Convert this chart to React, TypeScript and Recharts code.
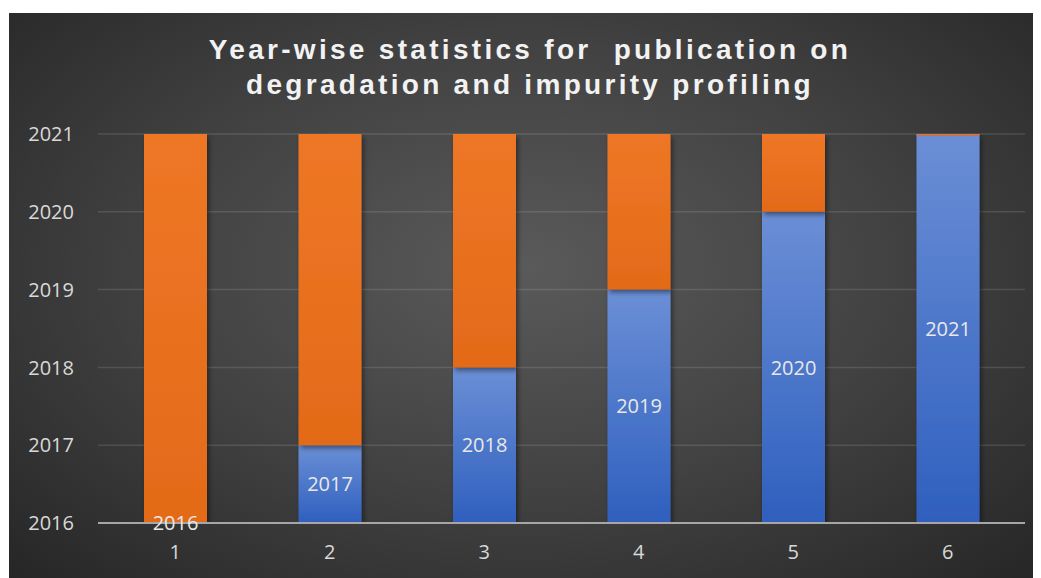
import { BarChart, Bar, XAxis, YAxis, CartesianGrid, LabelList } from 'recharts';

const categories = ['1', '2', '3', '4', '5', '6'];
// year reached by each publication bar (blue), shown as its label
const publicationYear = [2016, 2017, 2018, 2019, 2020, 2021];
// start and end of the remaining span (orange) up to the axis top
const remainingFrom = [2016, 2017, 2018, 2019, 2020, 2020.98];
const remainingTo = [2021, 2021, 2021, 2021, 2021, 2021];
const yearTicks = [2016, 2017, 2018, 2019, 2020, 2021];

const data = categories.map((name, i) => ({
  name,
  year: publicationYear[i],
  published: [2016, publicationYear[i]],
  remaining: [remainingFrom[i], remainingTo[i]],
}));

const TEXT = '#d9d9d9';
const FONT = '"Open Sans", "Liberation Sans", sans-serif';

export default function App() {
  return (
    <div
      style={{
        position: 'relative',
        width: 1032,
        height: 565,
        marginTop: 5,
        marginLeft: 1,
        background: 'radial-gradient(ellipse at 50% 45%, #5a5a5a 0%, #424242 50%, #262626 100%)',
        fontFamily: FONT,
      }}
    >
      <div
        style={{
          position: 'absolute',
          top: 19,
          left: 0,
          width: 1042,
          textAlign: 'center',
          color: '#f2f2f2',
          fontFamily: '"Liberation Sans", Arial, sans-serif',
          fontWeight: 700,
          fontSize: 28,
          lineHeight: '35px',
          letterSpacing: 3.3,
          whiteSpace: 'pre',
        }}
      >
        {'Year-wise statistics for  publication on\ndegradation and impurity profiling'}
      </div>
      <BarChart
        width={1032}
        height={565}
        data={data}
        margin={{ top: 121, right: 16, bottom: 0, left: 0 }}
        barSize={63}
        barGap={-63}
      >
        <defs>
          <linearGradient id="blueFill" x1="0" y1="0" x2="0" y2="1">
            <stop offset="0%" stopColor="#6b8fd6" />
            <stop offset="100%" stopColor="#2f5fbe" />
          </linearGradient>
          <linearGradient id="orangeFill" x1="0" y1="0" x2="0" y2="1">
            <stop offset="0%" stopColor="#ee7726" />
            <stop offset="100%" stopColor="#e36a18" />
          </linearGradient>
          <filter id="barShadow" x="-20%" y="-20%" width="140%" height="140%">
            <feDropShadow dx="2" dy="3" stdDeviation="2.5" floodColor="#000" floodOpacity="0.45" />
          </filter>
        </defs>
        <CartesianGrid vertical={false} stroke="#ffffff" strokeOpacity={0.12} strokeWidth={1.5} />
        <XAxis
          dataKey="name"
          height={55}
          tickLine={false}
          tickSize={0}
          tickMargin={22}
          axisLine={{ stroke: '#a6a6a6', strokeWidth: 2 }}
          tick={{ fill: TEXT, fontSize: 20, fontFamily: FONT }}
        />
        <YAxis
          type="number"
          domain={[2016, 2021]}
          ticks={yearTicks}
          allowDataOverflow
          width={89}
          axisLine={false}
          tickLine={false}
          tickSize={0}
          tickMargin={24}
          tick={{ fill: TEXT, fontSize: 20, fontFamily: FONT }}
        />
        <Bar dataKey="published" fill="url(#blueFill)" filter="url(#barShadow)" isAnimationActive={false} />
        <Bar dataKey="remaining" fill="url(#orangeFill)" filter="url(#barShadow)" isAnimationActive={false} />
        {/* transparent copy of the blue bars, drawn last so the year labels sit on top */}
        <Bar dataKey="published" fill="none" legendType="none" minPointSize={1} isAnimationActive={false}>
          <LabelList dataKey="year" position="center" fill="#e8e8e8" fontSize={20} fontFamily={FONT} />
        </Bar>
      </BarChart>
    </div>
  );
}
